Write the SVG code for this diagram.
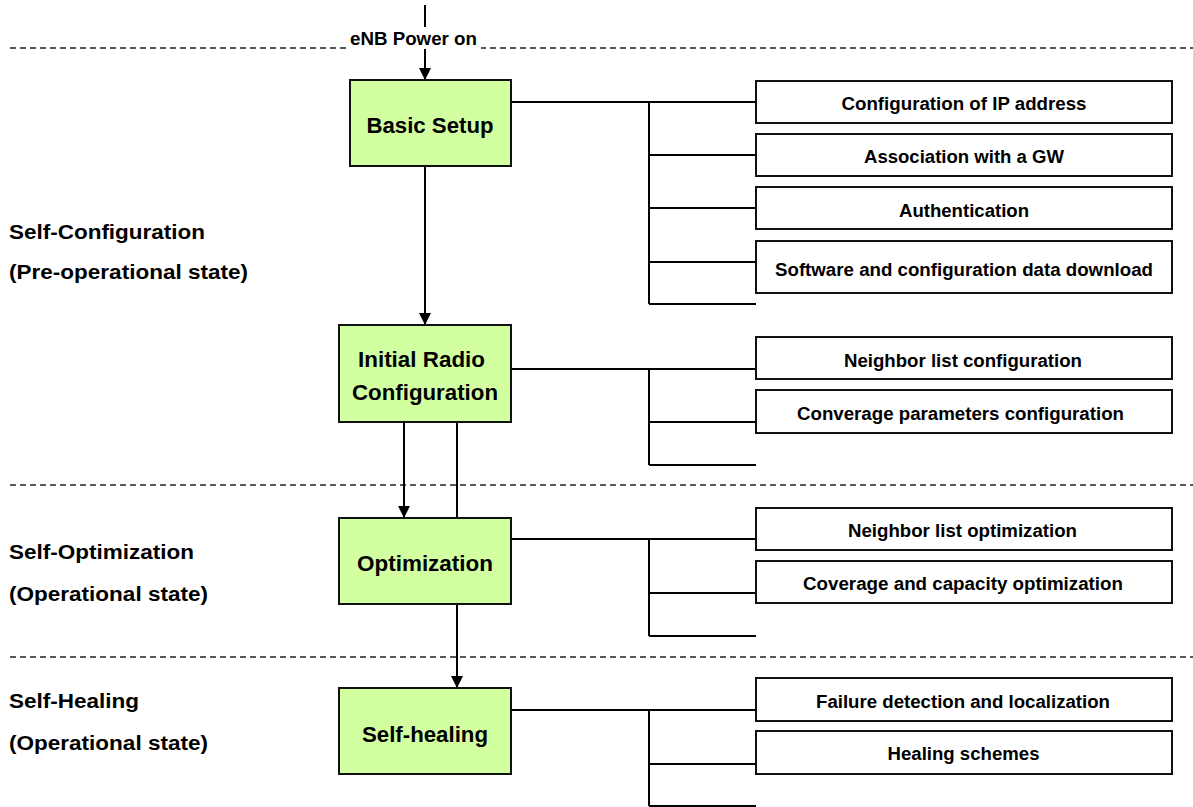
<svg xmlns="http://www.w3.org/2000/svg" width="1193" height="807" viewBox="0 0 1193 807">
<style>
text{font-family:"Liberation Sans",Arial,sans-serif;font-weight:bold;fill:#000}
.main{fill:#D2FFA0;stroke:#111;stroke-width:2}
.sub{fill:#fff;stroke:#111;stroke-width:2}
.mt{font-size:22px;text-anchor:middle}
.st{font-size:18px;text-anchor:middle}
.lt{font-size:20px}
.c{stroke:#000;stroke-width:2;fill:none}
.dash{stroke:#222;stroke-width:1.4;stroke-dasharray:6,4;fill:none}
</style>
<defs>
<marker id="ah" markerWidth="12" markerHeight="12" refX="12" refY="6" orient="auto" markerUnits="userSpaceOnUse" viewBox="0 0 12 12">
<path d="M0,0 L12,6 L0,12 Z" fill="#000"/>
</marker>
</defs>
<rect width="1193" height="807" fill="#fff"/>
<g id="separators">
<line class="dash" x1="10" y1="48" x2="1193" y2="48"/>
<line class="dash" x1="10" y1="485" x2="1193" y2="485"/>
<line class="dash" x1="10" y1="657" x2="1193" y2="657"/>
</g>
<g id="phase-labels">
<text class="lt" x="9" y="239" textLength="196" lengthAdjust="spacingAndGlyphs">Self-Configuration</text>
<text class="lt" x="9" y="279" textLength="239" lengthAdjust="spacingAndGlyphs">(Pre-operational state)</text>
<text class="lt" x="9" y="559" textLength="185" lengthAdjust="spacingAndGlyphs">Self-Optimization</text>
<text class="lt" x="9" y="601" textLength="199" lengthAdjust="spacingAndGlyphs">(Operational state)</text>
<text class="lt" x="9" y="708" textLength="130" lengthAdjust="spacingAndGlyphs">Self-Healing</text>
<text class="lt" x="9" y="750" textLength="199" lengthAdjust="spacingAndGlyphs">(Operational state)</text>
</g>
<g id="connectors">
<line class="c" x1="425" y1="5" x2="425" y2="80" marker-end="url(#ah)"/>
<line class="c" x1="425" y1="166" x2="425" y2="325" marker-end="url(#ah)"/>
<line class="c" x1="404" y1="422" x2="404" y2="518" marker-end="url(#ah)"/>
<line class="c" x1="457" y1="422" x2="457" y2="518"/>
<line class="c" x1="457" y1="604" x2="457" y2="688" marker-end="url(#ah)"/>
<path class="c" d="M511,102 H756 M649,102 V304 M649,155 H756 M649,208 H756 M649,262 H756 M649,304 H756"/>
<path class="c" d="M511,369 H756 M649,369 V465 M649,422 H756 M649,465 H756"/>
<path class="c" d="M511,539 H756 M649,539 V636 M649,593 H756 M649,636 H756"/>
<path class="c" d="M511,710 H756 M649,710 V806 M649,764 H756 M649,806 H756"/>
</g>
<g id="power-on">
<rect x="347" y="27" width="134" height="22" fill="#fff"/>
<text x="350" y="45" font-size="17.5px" textLength="127" lengthAdjust="spacingAndGlyphs">eNB Power on</text>
</g>
<g id="basic-setup">
<rect class="main" x="350" y="80" width="161" height="86"/>
<text class="mt" x="430" y="133" textLength="127" lengthAdjust="spacingAndGlyphs">Basic Setup</text>
</g>
<g id="initial-radio">
<rect class="main" x="339" y="325" width="172" height="97"/>
<text class="mt" x="421.5" y="367" textLength="127" lengthAdjust="spacingAndGlyphs">Initial Radio</text>
<text class="mt" x="425" y="400" textLength="146" lengthAdjust="spacingAndGlyphs">Configuration</text>
</g>
<g id="optimization">
<rect class="main" x="339" y="518" width="172" height="86"/>
<text class="mt" x="425" y="571" textLength="136" lengthAdjust="spacingAndGlyphs">Optimization</text>
</g>
<g id="self-healing">
<rect class="main" x="339" y="688" width="172" height="86"/>
<text class="mt" x="425" y="742" textLength="126" lengthAdjust="spacingAndGlyphs">Self-healing</text>
</g>
<g id="ip-config">
<rect class="sub" x="756" y="81" width="416" height="42"/>
<text class="st" x="964" y="110" textLength="245" lengthAdjust="spacingAndGlyphs">Configuration of IP address</text>
</g>
<g id="gw-assoc">
<rect class="sub" x="756" y="134" width="416" height="42"/>
<text class="st" x="964" y="163" textLength="200" lengthAdjust="spacingAndGlyphs">Association with a GW</text>
</g>
<g id="auth">
<rect class="sub" x="756" y="187" width="416" height="42"/>
<text class="st" x="964" y="216.5" textLength="130" lengthAdjust="spacingAndGlyphs">Authentication</text>
</g>
<g id="sw-download">
<rect class="sub" x="756" y="241" width="416" height="52"/>
<text class="st" x="964" y="276" textLength="378" lengthAdjust="spacingAndGlyphs">Software and configuration data download</text>
</g>
<g id="nl-config">
<rect class="sub" x="756" y="337" width="416" height="42"/>
<text class="st" x="963" y="366.5" textLength="238" lengthAdjust="spacingAndGlyphs">Neighbor list configuration</text>
</g>
<g id="cov-config">
<rect class="sub" x="756" y="390" width="416" height="43"/>
<text class="st" x="960.5" y="420" textLength="327" lengthAdjust="spacingAndGlyphs">Converage parameters configuration</text>
</g>
<g id="nl-opt">
<rect class="sub" x="756" y="508" width="416" height="42"/>
<text class="st" x="962.5" y="536.5" textLength="229" lengthAdjust="spacingAndGlyphs">Neighbor list optimization</text>
</g>
<g id="cc-opt">
<rect class="sub" x="756" y="561" width="416" height="42"/>
<text class="st" x="963" y="590" textLength="320" lengthAdjust="spacingAndGlyphs">Coverage and capacity optimization</text>
</g>
<g id="failure">
<rect class="sub" x="756" y="678" width="416" height="43"/>
<text class="st" x="963" y="708" textLength="294" lengthAdjust="spacingAndGlyphs">Failure detection and localization</text>
</g>
<g id="healing">
<rect class="sub" x="756" y="731" width="416" height="43"/>
<text class="st" x="963.5" y="760" textLength="152" lengthAdjust="spacingAndGlyphs">Healing schemes</text>
</g>
</svg>
